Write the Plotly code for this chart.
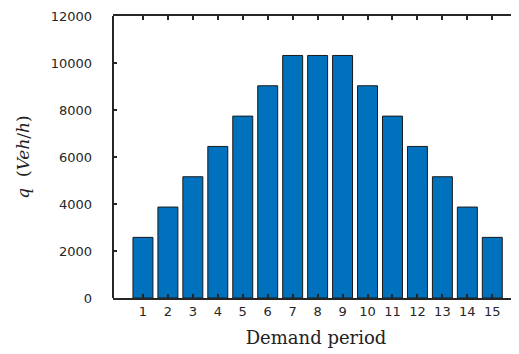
import plotly.graph_objects as go

periods = list(range(1, 16))
flows = [2580, 3870, 5160, 6450, 7740, 9030, 10320, 10320, 10320, 9030, 7740, 6450, 5160, 3870, 2580]
y_ticks = [0, 2000, 4000, 6000, 8000, 10000, 12000]

axis_color = "#262626"

fig = go.Figure()
fig.add_trace(go.Bar(
    x=periods, y=flows, width=0.8,
    marker=dict(color="#0072BD", line=dict(color="#1a1a1a", width=1)),
))

# the page body adds an 8px offset, so margins are reduced accordingly
fig.update_layout(
    width=511, height=346,
    margin=dict(l=105, r=0, t=8, b=56),
    plot_bgcolor="white", paper_bgcolor="white",
    showlegend=False,
    font=dict(family="DejaVu Sans", size=13, color=axis_color),
    xaxis=dict(
        range=[-0.2, 16.07],
        tickvals=periods, ticktext=[str(p) for p in periods],
        ticks="inside", ticklen=4, tickwidth=1.5, tickcolor=axis_color,
        showline=True, linecolor=axis_color, linewidth=2, mirror="ticks",
        showgrid=False, zeroline=False,
        title=dict(text="Demand period", font=dict(family="DejaVu Serif", size=18, color="#222"), standoff=14),
    ),
    yaxis=dict(
        range=[0, 12000],
        tickvals=y_ticks, ticktext=[str(v) for v in y_ticks],
        ticks="inside", ticklen=4, tickwidth=1.5, tickcolor=axis_color,
        showline=False, mirror="ticks",
        showgrid=False, zeroline=False,
        ticklabelstandoff=20,
        title=dict(text="<i>q</i>  (<i>Veh</i>/<i>h</i>)",
                   font=dict(family="DejaVu Serif", size=17, color="#222"), standoff=16),
    ),
    shapes=[dict(type="line", xref="paper", yref="paper", x0=0, x1=0, y0=0, y1=1,
                 line=dict(color=axis_color, width=2))],
)

fig.write_html("out.html")
